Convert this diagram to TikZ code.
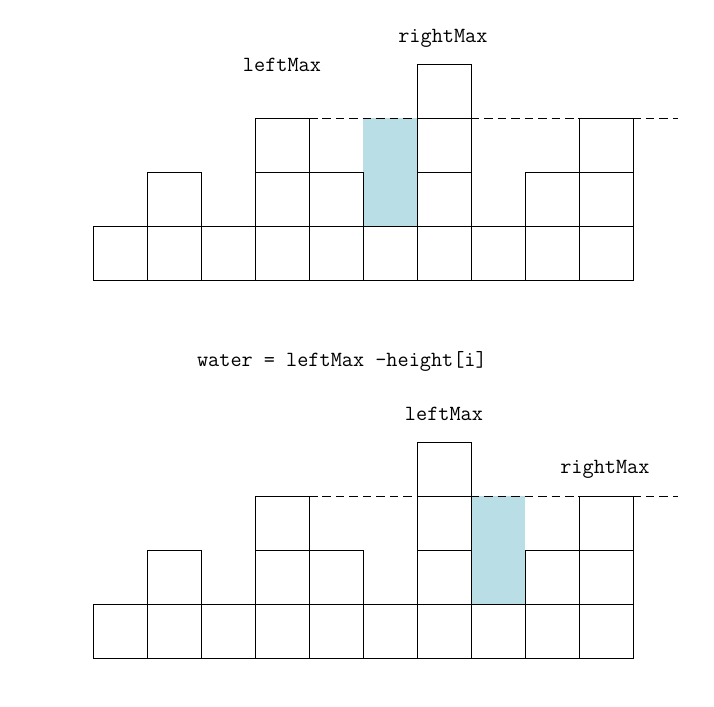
\documentclass[tikz,border=0pt]{standalone}
\usepackage{fontspec}
\usetikzlibrary{positioning}

\definecolor{waterblue}{RGB}{185,222,230}

\begin{document}
\begin{tikzpicture}[x=1cm, y=1cm, line width=0.5pt,
    cell/.style={draw=black},
    level/.style={dash pattern=on 4.5pt off 2.6pt},
    lbl/.style={font=\ttfamily\fontsize{11.4}{13}\selectfont, inner sep=0pt}]

\useasboundingbox (-1.722,-7.907) rectangle (11.5,5.185);

% leftMax 在左边 (上图)
\begin{scope}
    % 积水
    \fill[waterblue] (5,1) rectangle (6,3);

    % 柱子
    \foreach \i/\h in {0/1, 1/2, 2/1, 3/3, 4/2, 5/1, 6/4, 7/1, 8/2, 9/3}
        \foreach \j in {1,...,\h}
            \draw[cell] (\i,\j-1) rectangle ++(1,1);

    % 水位线
    \coordinate (topstart) at (4,3);
    \coordinate (topend) at (10.83,3);
    \draw[level] (topstart) -- (topend);

    \node[lbl] (rmaxtop) at (6.48,4.48) {rightMax};
    \node[lbl] (lmaxtop) at (3.5,3.98) {leftMax};
\end{scope}

% 公式
\node[lbl] (formula) at (4.61,-1.5) {water = leftMax -height[i]};

% rightMax 在右边 (下图)
\begin{scope}[yshift=-7cm]
    % 积水
    \fill[waterblue] (7,1) rectangle (8,3);

    % 柱子
    \foreach \i/\h in {0/1, 1/2, 2/1, 3/3, 4/2, 5/1, 6/4, 7/1, 8/2, 9/3}
        \foreach \j in {1,...,\h}
            \draw[cell] (\i,\j-1) rectangle ++(1,1);

    % 水位线
    \coordinate (botstart) at (4,3);
    \coordinate (botend) at (10.83,3);
    \draw[level] (botstart) -- (botend);

    \node[lbl] (lmaxbot) at (6.5,4.52) {leftMax};
    \node[lbl] (rmaxbot) at (9.48,3.5) {rightMax};
\end{scope}

\end{tikzpicture}
\end{document}
